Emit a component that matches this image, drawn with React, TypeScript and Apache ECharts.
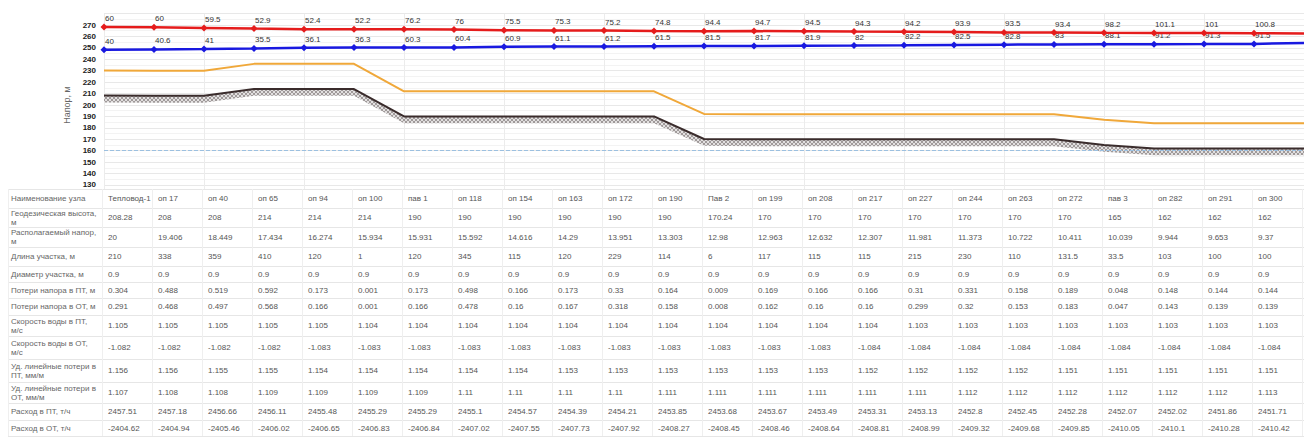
import React, { useEffect, useRef } from "react";
import * as echarts from "echarts";

const FONT = '"Liberation Sans", Arial, Helvetica, sans-serif';

// ---- data ----
const nodeNames = [
  "Тепловод-1", "оп 17", "оп 40", "оп 65", "оп 94", "оп 100", "пав 1", "оп 118",
  "оп 154", "оп 163", "оп 172", "оп 190", "Пав 2", "оп 199", "оп 208", "оп 217",
  "оп 227", "оп 244", "оп 263", "оп 272", "пав 3", "оп 282", "оп 291", "оп 300",
];
const geodeticHeight = [
  208.28, 208, 208, 214, 214, 214, 190, 190, 190, 190, 190, 190,
  170.24, 170, 170, 170, 170, 170, 170, 170, 165, 162, 162, 162,
];
const supplyPressure = [
  60, 60, 59.5, 52.9, 52.4, 52.2, 76.2, 76, 75.5, 75.3, 75.2, 74.8,
  94.4, 94.7, 94.5, 94.3, 94.2, 93.9, 93.5, 93.4, 98.2, 101.1, 101, 100.8,
];
const returnPressure = [
  40, 40.6, 41, 35.5, 36.1, 36.3, 60.3, 60.4, 60.9, 61.1, 61.2, 61.5,
  81.5, 81.7, 81.9, 82, 82.2, 82.5, 82.8, 83, 88.1, 91.2, 91.3, 91.5,
];
const staticHead = [
  230.3, 230, 230, 236, 236, 236, 212, 212, 212, 212, 212, 212,
  192.2, 192, 192, 192, 192, 192, 192, 192, 187, 184, 184, 184,
];
// values at the right edge of the plot (cut-off node)
const edgeSupplyHead = 262.6;
const edgeReturnHead = 254.3;
const edgeStaticHead = 184;
const edgeGround = 162;
const dashedLevel = 160;

const availableHead = [
  20, 19.406, 18.449, 17.434, 16.274, 15.934, 15.931, 15.592, 14.616, 14.29, 13.951, 13.303,
  12.98, 12.963, 12.632, 12.307, 11.981, 11.373, 10.722, 10.411, 10.039, 9.944, 9.653, 9.37,
];
const sectionLength = [
  210, 338, 359, 410, 120, 1, 120, 345, 115, 120, 229, 114,
  6, 117, 115, 115, 215, 230, 110, 131.5, 33.5, 103, 100, 100,
];
const sectionDiameter = [
  0.9, 0.9, 0.9, 0.9, 0.9, 0.9, 0.9, 0.9, 0.9, 0.9, 0.9, 0.9,
  0.9, 0.9, 0.9, 0.9, 0.9, 0.9, 0.9, 0.9, 0.9, 0.9, 0.9, 0.9,
];
const lossSupply = [
  0.304, 0.488, 0.519, 0.592, 0.173, 0.001, 0.173, 0.498, 0.166, 0.173, 0.33, 0.164,
  0.009, 0.169, 0.166, 0.166, 0.31, 0.331, 0.158, 0.189, 0.048, 0.148, 0.144, 0.144,
];
const lossReturn = [
  0.291, 0.468, 0.497, 0.568, 0.166, 0.001, 0.166, 0.478, 0.16, 0.167, 0.318, 0.158,
  0.008, 0.162, 0.16, 0.16, 0.299, 0.32, 0.153, 0.183, 0.047, 0.143, 0.139, 0.139,
];
const velocitySupply = [
  1.105, 1.105, 1.105, 1.105, 1.105, 1.104, 1.104, 1.104, 1.104, 1.104, 1.104, 1.104,
  1.104, 1.104, 1.104, 1.104, 1.103, 1.103, 1.103, 1.103, 1.103, 1.103, 1.103, 1.103,
];
const velocityReturn = [
  -1.082, -1.082, -1.082, -1.082, -1.083, -1.083, -1.083, -1.083, -1.083, -1.083, -1.083, -1.083,
  -1.083, -1.083, -1.083, -1.084, -1.084, -1.084, -1.084, -1.084, -1.084, -1.084, -1.084, -1.084,
];
const specLossSupply = [
  1.156, 1.156, 1.155, 1.155, 1.154, 1.154, 1.154, 1.154, 1.154, 1.153, 1.153, 1.153,
  1.153, 1.153, 1.153, 1.152, 1.152, 1.152, 1.152, 1.151, 1.151, 1.151, 1.151, 1.151,
];
const specLossReturn = [
  1.107, 1.108, 1.108, 1.109, 1.109, 1.109, 1.109, 1.11, 1.11, 1.11, 1.11, 1.111,
  1.111, 1.111, 1.111, 1.111, 1.111, 1.112, 1.112, 1.112, 1.112, 1.112, 1.112, 1.113,
];
const flowSupply = [
  2457.51, 2457.18, 2456.66, 2456.11, 2455.48, 2455.29, 2455.29, 2455.1, 2454.57, 2454.39, 2454.21, 2453.85,
  2453.68, 2453.67, 2453.49, 2453.31, 2453.13, 2452.8, 2452.45, 2452.28, 2452.07, 2452.02, 2451.86, 2451.71,
];
const flowReturn = [
  -2404.62, -2404.94, -2405.46, -2406.02, -2406.65, -2406.83, -2406.84, -2407.02, -2407.55, -2407.73, -2407.92, -2408.27,
  -2408.45, -2408.46, -2408.64, -2408.81, -2408.99, -2409.32, -2409.68, -2409.85, -2410.05, -2410.1, -2410.28, -2410.42,
];

const rowLabels = [
  "Наименование узла",
  "Геодезическая высота,\nм",
  "Располагаемый напор,\nм",
  "Длина участка, м",
  "Диаметр участка, м",
  "Потери напора в ПТ, м",
  "Потери напора в ОТ, м",
  "Скорость воды в ПТ,\nм/с",
  "Скорость воды в ОТ,\nм/с",
  "Уд. линейные потери в\nПТ, мм/м",
  "Уд. линейные потери в\nОТ, мм/м",
  "Расход в ПТ, т/ч",
  "Расход в ОТ, т/ч",
];
const rowValues: (string | number)[][] = [
  nodeNames, geodeticHeight, availableHead, sectionLength, sectionDiameter,
  lossSupply, lossReturn, velocitySupply, velocityReturn, specLossSupply,
  specLossReturn, flowSupply, flowReturn,
];

// layout of the table (pixels)
const rowBorders = [189, 208, 227, 247, 266, 282, 298, 315, 336, 359, 382, 403, 420, 436];

function makeHatch() {
  const c = document.createElement("canvas");
  c.width = 4;
  c.height = 4;
  const ctx = c.getContext("2d")!;
  ctx.fillStyle = "#e2e0e0";
  ctx.fillRect(0, 0, 4, 4);
  ctx.fillStyle = "#a09a9a";
  for (let i = 0; i < 4; i++) {
    ctx.fillRect(i, i, 1, 1);
    ctx.fillRect(3 - i, i, 1, 1);
  }
  return c;
}

export default function App() {
  const ref = useRef<HTMLDivElement>(null);
  useEffect(() => {
    if (!ref.current) return;
    const chart = echarts.init(ref.current, null, { renderer: "svg" });
    const cats = [...nodeNames, ""];
    const n = nodeNames.length;
    const supplyHead = nodeNames
      .map((_, i) => +(geodeticHeight[i] + supplyPressure[i]).toFixed(2))
      .concat([edgeSupplyHead]);
    const returnHead = nodeNames
      .map((_, i) => +(geodeticHeight[i] + returnPressure[i]).toFixed(2))
      .concat([edgeReturnHead]);
    const ground = [...geodeticHeight, edgeGround];
    const orange = [...staticHead, edgeStaticHead];
    const bandThickness = 6;
    const groundBase = ground.map((g) => +(g - bandThickness).toFixed(2));
    const band = ground.map(() => bandThickness);
    const hatch = makeHatch();

    const markedData = (arr: number[]) =>
      arr.map((v, i) =>
        i < n ? v : { value: v, symbol: "none", label: { show: false } }
      );

    const labelStyle = (src: number[]) => ({
      show: true,
      position: "top",
      align: "left",
      distance: 1,
      offset: [1, 0],
      fontSize: 8,
      fontFamily: FONT,
      color: "#333",
      formatter: (p: any) => (p.dataIndex < n ? String(src[p.dataIndex]) : ""),
    });

    const option: any = {
      animation: false,
      grid: {
        left: 104,
        right: 0,
        top: 13.6,
        bottom: 439 - 196.4,
        outerBoundsMode: "none",
      },
      xAxis: {
        type: "category",
        data: cats,
        boundaryGap: false,
        axisLabel: { show: false },
        axisTick: { show: false },
        axisLine: { show: false },
        splitLine: { show: true, lineStyle: { color: "#ececec", width: 1 } },
      },
      yAxis: {
        type: "value",
        min: 120,
        max: 280,
        interval: 10,
        name: "Напор, м",
        nameLocation: "middle",
        nameGap: 32,
        nameTextStyle: { fontSize: 9, color: "#666", fontFamily: FONT },
        axisLine: { show: false },
        axisTick: { show: false },
        axisLabel: {
          fontSize: 8,
          fontWeight: "bold",
          color: "#222",
          fontFamily: FONT,
          margin: 8,
          showMinLabel: false,
          showMaxLabel: false,
        },
        splitLine: { lineStyle: { color: "#e8e8e8", width: 1 } },
        minorTick: { show: false, splitNumber: 2 },
        minorSplitLine: { show: true, lineStyle: { color: "#f3f3f3", width: 1 } },
      },
      series: [
        {
          name: "base",
          type: "line",
          stack: "ground",
          data: groundBase,
          symbol: "none",
          silent: true,
          lineStyle: { width: 0, opacity: 0 },
          z: 1,
        },
        {
          name: "band",
          type: "line",
          stack: "ground",
          data: band,
          symbol: "none",
          silent: true,
          lineStyle: { width: 0, opacity: 0 },
          areaStyle: {
            color: { image: hatch, repeat: "repeat", imageWidth: 4, imageHeight: 4 },
            opacity: 1,
          },
          z: 1,
        },
        {
          name: "ground",
          type: "line",
          data: ground,
          symbol: "none",
          lineStyle: { color: "#3a2c2c", width: 2 },
          z: 2,
          markLine: {
            silent: true,
            symbol: ["none", "none"],
            label: { show: false },
            lineStyle: { type: "dashed", color: "#9cc0e0", width: 1 },
            data: [{ yAxis: dashedLevel }],
          },
        },
        {
          name: "static",
          type: "line",
          data: orange,
          symbol: "none",
          lineStyle: { color: "#f0a83a", width: 2 },
          z: 3,
        },
        {
          name: "return",
          type: "line",
          data: markedData(returnHead),
          symbol: "diamond",
          symbolSize: 7,
          showAllSymbol: true,
          itemStyle: { color: "#1919e0" },
          lineStyle: { color: "#1919e0", width: 2.5 },
          label: labelStyle(returnPressure),
          z: 4,
        },
        {
          name: "supply",
          type: "line",
          data: markedData(supplyHead),
          symbol: "diamond",
          symbolSize: 7,
          showAllSymbol: true,
          itemStyle: { color: "#e51c1c" },
          lineStyle: { color: "#e51c1c", width: 2.5 },
          label: labelStyle(supplyPressure),
          z: 5,
        },
      ],
    };
    chart.setOption(option);

    // table drawn with graphic elements aligned to the category axis
    const xs = cats.map((_, i) => chart.convertToPixel({ xAxisIndex: 0 }, i) as number);
    const els: any[] = [];
    const top = rowBorders[0];
    const bottom = rowBorders[rowBorders.length - 1];
    els.push({
      type: "rect",
      shape: { x: 0, y: top, width: 1304, height: 439 - top },
      style: { fill: "#ffffff" },
      z: 100,
      silent: true,
    });
    rowBorders.forEach((y) => {
      els.push({
        type: "line",
        shape: { x1: 8, y1: y + 0.5, x2: 1304, y2: y + 0.5 },
        style: { stroke: "#e6e6e6", lineWidth: 1 },
        z: 101,
        silent: true,
      });
    });
    const vxs = [8, ...xs.map((x) => x - 2)];
    vxs.forEach((x) => {
      els.push({
        type: "line",
        shape: { x1: Math.round(x) + 0.5, y1: top, x2: Math.round(x) + 0.5, y2: bottom },
        style: { stroke: "#efefef", lineWidth: 1 },
        z: 101,
        silent: true,
      });
    });
    rowLabels.forEach((label, r) => {
      const cy = (rowBorders[r] + rowBorders[r + 1]) / 2;
      els.push({
        type: "text",
        x: 11,
        y: cy,
        style: {
          text: label,
          fill: "#666",
          fontSize: 8,
          fontFamily: FONT,
          lineHeight: 9,
          verticalAlign: "middle",
          align: "left",
        },
        z: 102,
        silent: true,
      });
      rowValues[r].forEach((v, i) => {
        els.push({
          type: "text",
          x: xs[i] + 4,
          y: cy,
          style: {
            text: String(v),
            fill: "#555",
            fontSize: 8,
            fontFamily: FONT,
            verticalAlign: "middle",
            align: "left",
          },
          z: 102,
          silent: true,
        });
      });
    });
    chart.setOption({ graphic: { elements: els } });

    return () => chart.dispose();
  }, []);
  return (
    <div
      ref={ref}
      style={{ position: "absolute", left: 0, top: 0, width: 1304, height: 439, background: "#fff" }}
    />
  );
}
